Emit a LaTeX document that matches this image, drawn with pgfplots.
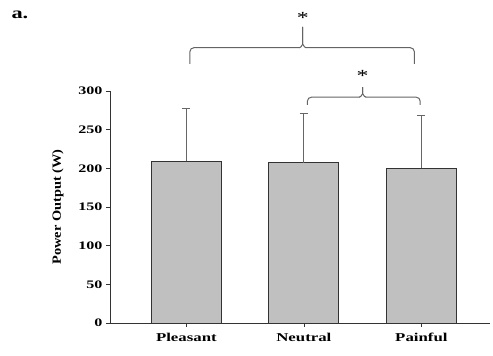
\documentclass[border=0pt]{standalone}
\usepackage{fontspec}
\setmainfont{Liberation Serif}
\newfontfamily\stfont[FakeStretch=1.4]{Liberation Serif}
\newfontfamily\ylfont[FakeStretch=1.15]{Liberation Serif}
\usepackage{pgfplots}
\pgfplotsset{compat=1.18}
\definecolor{barfill}{RGB}{192,192,192}
\definecolor{brk}{RGB}{100,100,100}
\begin{document}
\begin{tikzpicture}
\path[use as bounding box] (0,0) rectangle (493pt,356pt);
\begin{axis}[
  at={(110pt,33pt)}, anchor=south west,
  scale only axis, width=380pt, height=232pt,
  xmin=-0.65, xmax=2.584, ymin=0, ymax=300,
  axis x line=bottom, axis y line=left,
  axis line style={-, black!80, line width=0.8pt},
  xtick={0,1,2}, xticklabels={Pleasant,Neutral,Painful},
  ytick={0,50,100,150,200,250,300},
  tick align=outside,
  major tick length=4pt,
  tick style={black!80, line width=0.6pt},
  /pgf/number format/assume math mode=true,
  ticklabel style={font=\stfont\bfseries\fontsize{11.5}{12}\selectfont},
  xticklabel style={font=\stfont\bfseries\fontsize{12}{13}\selectfont, yshift=-3pt},
  ylabel={Power Output (W)},
  ylabel shift=8pt,
  ylabel style={font=\ylfont\bfseries\fontsize{12.5}{13}\selectfont},
  clip=false,
]
\addplot[ybar, bar width=70pt, fill=barfill, draw=black!80, line width=0.8pt,
  error bars/.cd, y dir=plus, y explicit,
  error bar style={black!60, line width=1pt},
  error mark options={rotate=90, mark size=4pt, black!60, line width=1pt}]
  coordinates {(0,209) +- (0,69) (1,207.5) +- (0,63.5) (2,200) +- (0,68)};
\draw[brk, line width=1pt, rounded corners=4pt]
  (axis cs:0.03,335) -- (axis cs:0.03,356) -- (axis cs:0.965,356);
\draw[brk, line width=1pt, rounded corners=4pt]
  (axis cs:1.94,335) -- (axis cs:1.94,356) -- (axis cs:1.015,356);
\draw[brk, line width=1pt, rounded corners=2pt]
  (axis cs:0.96,356) -- (axis cs:0.99,358) -- (axis cs:0.99,383);
\draw[brk, line width=1pt, rounded corners=2pt]
  (axis cs:1.02,356) -- (axis cs:0.99,358) -- (axis cs:0.99,383);
\node[font=\stfont\fontsize{17}{17}\selectfont] at (axis cs:0.99,395) {*};
\draw[brk, line width=1pt, rounded corners=4pt]
  (axis cs:1.03,282) -- (axis cs:1.03,292) -- (axis cs:1.475,292);
\draw[brk, line width=1pt, rounded corners=4pt]
  (axis cs:1.99,282) -- (axis cs:1.99,292) -- (axis cs:1.525,292);
\draw[brk, line width=1pt, rounded corners=2pt]
  (axis cs:1.47,292) -- (axis cs:1.5,294) -- (axis cs:1.5,305);
\draw[brk, line width=1pt, rounded corners=2pt]
  (axis cs:1.53,292) -- (axis cs:1.5,294) -- (axis cs:1.5,305);
\node[font=\stfont\fontsize{17}{17}\selectfont] at (axis cs:1.5,319) {*};
\end{axis}
\node[font=\stfont\bfseries\fontsize{16}{16}\selectfont, anchor=west] at (8pt,341pt) {a.};
\end{tikzpicture}
\end{document}
